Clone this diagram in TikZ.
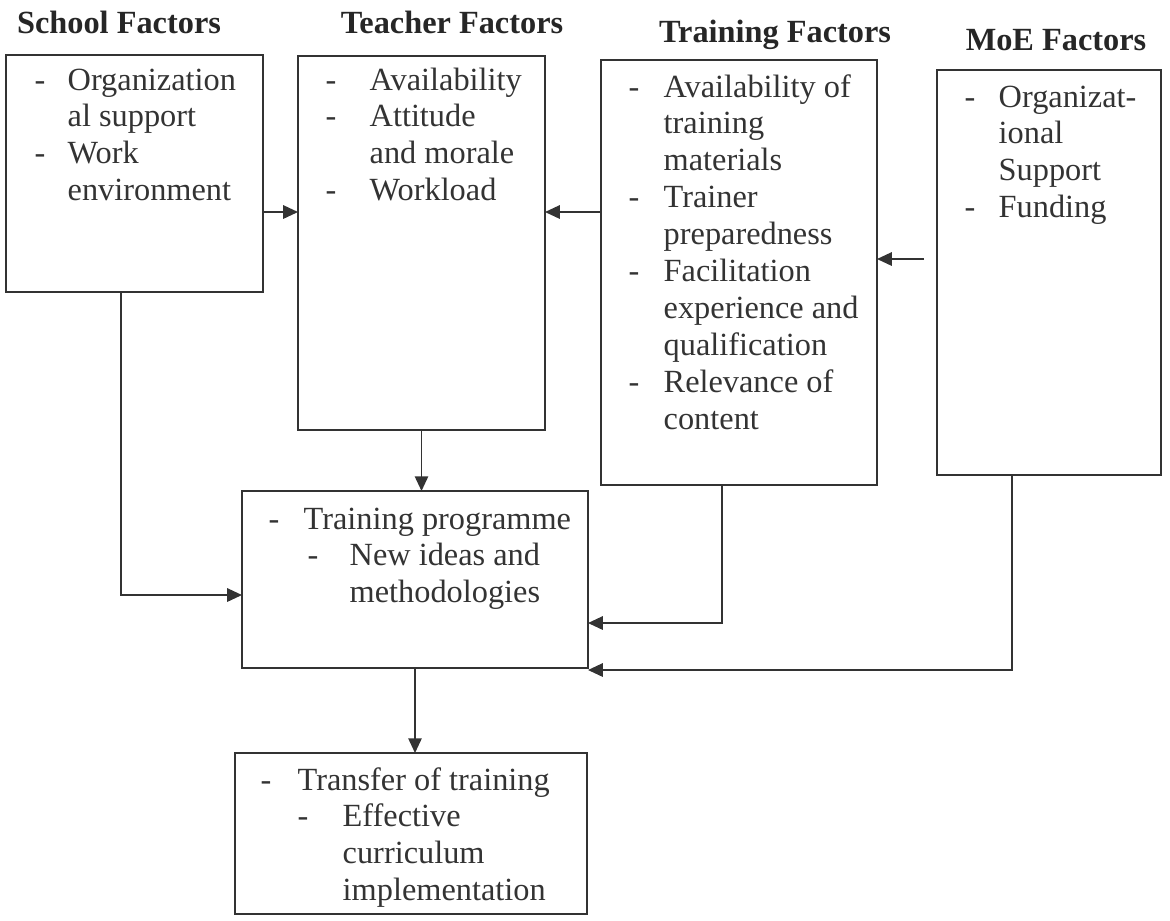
\documentclass[tikz,border=0pt]{standalone}
\usepackage{fontspec}
\setmainfont{Liberation Serif}
\usetikzlibrary{arrows.meta}
\newcommand{\itemdash}[1]{\makebox[#1][l]{-}}
\begin{document}
\begin{tikzpicture}
    % --- 样式设置 ---
    \tikzstyle{box}=[draw=black!80, line width=0.5pt, rectangle, inner sep=0pt, outer sep=0pt, anchor=north west]
    \tikzstyle{title}=[font=\fontsize{9.2}{10.5}\selectfont\bfseries, text=black!85]
    \tikzstyle{txt}=[font=\fontsize{9.2}{10.5}\selectfont, text=black!80, inner sep=0pt, anchor=base west]
    \tikzstyle{arrowstyle}=[-{Triangle[length=4.2pt,width=3.8pt]}, line width=0.5pt, draw=black!80]

    \useasboundingbox (0,0) rectangle (11.7,-9.2);

    % 1. 标题
    \node[title] (tschool) at (1.19,-0.22) {School Factors};
    \node[title] (tteacher) at (4.52,-0.22) {Teacher Factors};
    \node[title] (ttraining) at (7.75,-0.35) {Training Factors};
    \node[title] (tmoe) at (10.56,-0.40) {MoE Factors};

    % 2. 方框
    \node[box, minimum width=2.57cm, minimum height=2.37cm] (school) at (0.06,-0.55) {};
    \node[box, minimum width=2.47cm, minimum height=3.74cm] (teacher) at (2.98,-0.56) {};
    \node[box, minimum width=2.76cm, minimum height=4.25cm] (training) at (6.01,-0.60) {};
    \node[box, minimum width=2.24cm, minimum height=4.05cm] (moe) at (9.37,-0.70) {};
    \node[box, minimum width=3.46cm, minimum height=1.77cm] (prog) at (2.42,-4.91) {};
    \node[box, minimum width=3.52cm, minimum height=1.61cm] (transfer) at (2.35,-7.53) {};

    % 3. 方框里的文字
    \node[txt] (lschool) at (0.34,-0.90) {\begin{tabular}[t]{@{}l@{}}
        \itemdash{0.33cm}Organization\\ \hspace{0.33cm}al support\\
        \itemdash{0.33cm}Work\\ \hspace{0.33cm}environment\end{tabular}};
    \node[txt] (lteacher) at (3.25,-0.90) {\begin{tabular}[t]{@{}l@{}}
        \itemdash{0.44cm}Availability\\ \itemdash{0.44cm}Attitude\\
        \hspace{0.44cm}and morale\\ \itemdash{0.44cm}Workload\end{tabular}};
    \node[txt] (ltraining) at (6.28,-0.97) {\begin{tabular}[t]{@{}l@{}}
        \itemdash{0.35cm}Availability of\\ \hspace{0.35cm}training\\ \hspace{0.35cm}materials\\
        \itemdash{0.35cm}Trainer\\ \hspace{0.35cm}preparedness\\
        \itemdash{0.35cm}Facilitation\\ \hspace{0.35cm}experience and\\ \hspace{0.35cm}qualification\\
        \itemdash{0.35cm}Relevance of\\ \hspace{0.35cm}content\end{tabular}};
    \node[txt] (lmoe) at (9.64,-1.07) {\begin{tabular}[t]{@{}l@{}}
        \itemdash{0.34cm}Organizat-\\ \hspace{0.34cm}ional\\ \hspace{0.34cm}Support\\
        \itemdash{0.34cm}Funding\end{tabular}};
    \node[txt] (lprog) at (2.68,-5.29) {\begin{tabular}[t]{@{}l@{}}
        \itemdash{0.35cm}Training programme\\
        \hspace{0.39cm}\itemdash{0.42cm}New ideas and\\
        \hspace{0.81cm}methodologies\end{tabular}};
    \node[txt] (ltransfer) at (2.60,-7.90) {\begin{tabular}[t]{@{}l@{}}
        \itemdash{0.37cm}Transfer of training\\
        \hspace{0.37cm}\itemdash{0.45cm}Effective\\
        \hspace{0.82cm}curriculum\\ \hspace{0.82cm}implementation\end{tabular}};

    % 4. 箭头
    \coordinate (y1) at (0,-2.12);
    \coordinate (y2) at (0,-2.59);
    \coordinate (y3) at (0,-5.95);
    \coordinate (y4) at (0,-6.23);
    \coordinate (y5) at (0,-6.70);
    \coordinate (sdrop) at (1.21,0);
    \coordinate (tdrop) at (7.22,0);
    \coordinate (mdrop) at (10.12,0);
    \coordinate (moein) at ([xshift=-0.13cm]moe.west);

    \draw[arrowstyle] (school.east |- y1) -- (teacher.west |- y1);
    \draw[arrowstyle] (training.west |- y1) -- (teacher.east |- y1);
    \draw[arrowstyle] (moein |- y2) -- (training.east |- y2);
    \draw[arrowstyle] (teacher.south) -- (teacher.south |- prog.north);
    \draw[arrowstyle] (school.south -| sdrop) |- (prog.west |- y3);
    \draw[arrowstyle] (training.south -| tdrop) |- (prog.east |- y4);
    \draw[arrowstyle] (moe.south -| mdrop) |- (prog.east |- y5);
    \draw[arrowstyle] (prog.south) -- (prog.south |- transfer.north);

\end{tikzpicture}
\end{document}
